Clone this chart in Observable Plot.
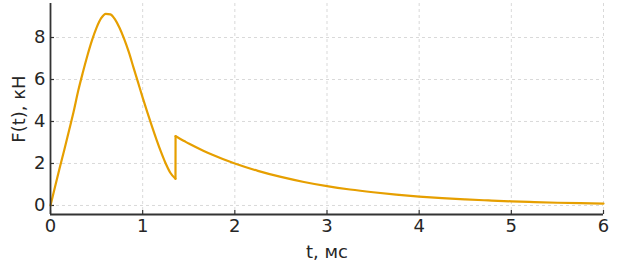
<!DOCTYPE html>
<html>
<head>
<meta charset="utf-8">
<script src="https://cdn.jsdelivr.net/npm/d3@7"></script>
<script src="https://cdn.jsdelivr.net/npm/@observablehq/plot@0.6"></script>
<style>
  html, body { margin: 0; padding: 0; background: #fff; }
  #chart { width: 620px; height: 271px; }
</style>
</head>
<body>
<div id="chart"></div>
<script>
// Pulse part: time (ms) and force (kN)
const pulseT = [0, 0.05, 0.1, 0.15, 0.2, 0.25, 0.3, 0.35, 0.4, 0.45, 0.5, 0.55, 0.6, 0.65, 0.7, 0.75, 0.8, 0.85, 0.9, 0.95, 1.0, 1.05, 1.1, 1.15, 1.2, 1.25, 1.3, 1.356];
const pulseF = [0, 0.9, 1.8, 2.65, 3.55, 4.45, 5.45, 6.32, 7.13, 7.86, 8.47, 8.92, 9.13, 9.1, 8.86, 8.45, 7.92, 7.3, 6.58, 5.86, 5.14, 4.45, 3.78, 3.14, 2.54, 2.0, 1.56, 1.27];
// Decay part after the jump
const decayT = [1.357, 1.4, 1.45, 1.5, 1.663, 1.75, 2.0, 2.25, 2.5, 2.75, 3.0, 3.25, 3.5, 3.75, 4.0, 4.25, 4.5, 4.75, 5.0, 5.25, 5.5, 5.75, 6.0];
const decayF = [3.3, 3.19, 3.07, 2.95, 2.6, 2.43, 2.0, 1.65, 1.36, 1.12, 0.92, 0.76, 0.63, 0.52, 0.425, 0.35, 0.29, 0.24, 0.196, 0.16, 0.13, 0.11, 0.09];
const xTicks = [0, 1, 2, 3, 4, 5, 6];
const yTicks = [0, 2, 4, 6, 8];
const xLabel = "t, мс";
const yLabel = "F(t), кН";

const xDomain = [0, 6];
const yDomain = [-0.43, 9.62];

const pulse = pulseT.map((t, i) => ({t, f: pulseF[i]}));
const decay = decayT.map((t, i) => ({t, f: decayF[i]}));
const jump = [pulse[pulse.length - 1], decay[0]];

const textColor = "#262626";
const font = "DejaVu Sans, sans-serif";
const lineColor = "#E69F00";
const fs = 18;

const chart = Plot.plot({
  width: 620,
  height: 271,
  marginLeft: 50,
  marginRight: 17,
  marginTop: 3,
  marginBottom: 57,
  style: {fontFamily: font, fontSize: fs + "px", color: textColor, background: "#fff"},
  x: {domain: xDomain, ticks: xTicks},
  y: {domain: yDomain, ticks: yTicks},
  marks: [
    Plot.gridX(xTicks, {stroke: "#cfcfcf", strokeOpacity: 1, strokeWidth: 0.8, strokeDasharray: "3,3"}),
    Plot.gridY(yTicks, {stroke: "#cfcfcf", strokeOpacity: 1, strokeWidth: 0.8, strokeDasharray: "3,3"}),
    Plot.axisX(xTicks, {tickSize: 0, tickPadding: 5, label: null, fontSize: fs, fill: textColor}),
    Plot.axisY(yTicks, {tickSize: 0, tickPadding: 5, label: null, fontSize: fs, fill: textColor}),
    Plot.tickX(xTicks, {x: d => d, insetTop: 207, stroke: "#333", strokeWidth: 1.2}),
    Plot.tickY(yTicks, {y: d => d, insetRight: 549, stroke: "#333", strokeWidth: 1.2}),
    Plot.line(pulse, {x: "t", y: "f", stroke: lineColor, strokeWidth: 2.2, curve: "monotone-x"}),
    Plot.line(jump, {x: "t", y: "f", stroke: lineColor, strokeWidth: 2.2}),
    Plot.line(decay, {x: "t", y: "f", stroke: lineColor, strokeWidth: 2.2, curve: "monotone-x"}),
    Plot.ruleX([xDomain[0]], {stroke: "#333", strokeWidth: 1.8}),
    Plot.ruleY([yDomain[0]], {stroke: "#333", strokeWidth: 1.8}),
    Plot.text([xLabel], {frameAnchor: "bottom", dy: 37.5, lineAnchor: "middle", textAnchor: "middle", text: d => d, fontSize: fs, fill: textColor}),
    Plot.text([yLabel], {frameAnchor: "left", dx: -31.5, rotate: -90, lineAnchor: "middle", textAnchor: "middle", text: d => d, fontSize: fs, fill: textColor})
  ]
});
document.getElementById("chart").appendChild(chart);
</script>
</body>
</html>
